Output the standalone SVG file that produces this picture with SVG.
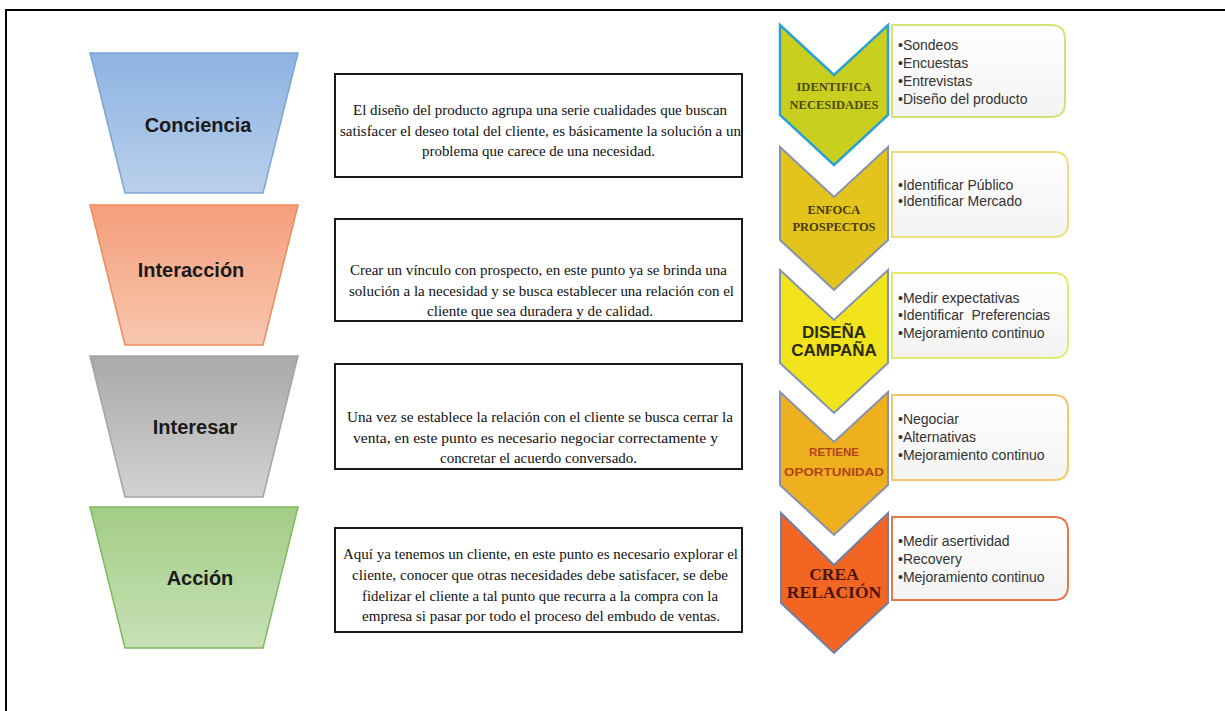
<svg xmlns="http://www.w3.org/2000/svg" width="1225" height="711" viewBox="0 0 1225 711">
<defs>
<linearGradient id="gBlue" x1="0" y1="0" x2="0" y2="1"><stop offset="0" stop-color="#8DB3E2"/><stop offset="1" stop-color="#B9D0EB"/></linearGradient>
<linearGradient id="gOrange" x1="0" y1="0" x2="0" y2="1"><stop offset="0" stop-color="#F49E7B"/><stop offset="1" stop-color="#F8C7AF"/></linearGradient>
<linearGradient id="gGray" x1="0" y1="0" x2="0" y2="1"><stop offset="0" stop-color="#A9A9A9"/><stop offset="1" stop-color="#D2D2D2"/></linearGradient>
<linearGradient id="gGreen" x1="0" y1="0" x2="0" y2="1"><stop offset="0" stop-color="#A3CD86"/><stop offset="1" stop-color="#C7E1B6"/></linearGradient>
<linearGradient id="gBox" x1="0" y1="0" x2="0" y2="1"><stop offset="0" stop-color="#FFFFFF"/><stop offset="1" stop-color="#F3F3F3"/></linearGradient>
</defs>
<style>
.frame{fill:none;stroke:#000;stroke-width:2}
.trap-label{font-family:"Liberation Sans",Arial,sans-serif;font-weight:bold;font-size:20px;fill:#1A1A1A;text-anchor:middle}
.desc{fill:#FFFFFF;stroke:#1A1A1A;stroke-width:2}
.desc-text{font-family:"Liberation Serif","Times New Roman",serif;font-size:14.5px;fill:#111;text-anchor:start}
.chev-serif{font-family:"Liberation Serif","Times New Roman",serif;font-weight:bold;text-anchor:middle}
.chev-sans{font-family:"Liberation Sans",Arial,sans-serif;font-weight:bold;text-anchor:middle}
.bullet{font-family:"Liberation Sans",Arial,sans-serif;font-size:14px;fill:#333333}
.bbox{fill:url(#gBox);stroke-width:2}
</style>
<rect class="frame" x="6" y="10" width="1230" height="720"/>

<g id="trap-conciencia">
<path d="M90,53 L298,53 L263,193 L125,193 Z" fill="url(#gBlue)" stroke="#7CA5D8" stroke-width="1.5"/>
<text class="trap-label" x="198" y="132">Conciencia</text>
</g>
<g id="trap-interaccion">
<path d="M90,205 L298,205 L263,345 L125,345 Z" fill="url(#gOrange)" stroke="#EE8A5E" stroke-width="1.5"/>
<text class="trap-label" x="191" y="277">Interacción</text>
</g>
<g id="trap-interesar">
<path d="M90,356 L298,356 L263,497 L125,497 Z" fill="url(#gGray)" stroke="#A3A3A3" stroke-width="1.5"/>
<text class="trap-label" x="195" y="434">Interesar</text>
</g>
<g id="trap-accion">
<path d="M90,507 L298,507 L263,648 L125,648 Z" fill="url(#gGreen)" stroke="#80BA5E" stroke-width="1.5"/>
<text class="trap-label" x="200" y="585">Acción</text>
</g>

<g id="desc-1">
<rect class="desc" x="335" y="74" width="407" height="103"/>
<text class="desc-text" x="353" y="115" textLength="374" lengthAdjust="spacingAndGlyphs">El diseño del producto agrupa una serie cualidades que buscan</text>
<text class="desc-text" x="340" y="136" textLength="401" lengthAdjust="spacingAndGlyphs">satisfacer el deseo total del cliente, es básicamente la solución a un</text>
<text class="desc-text" x="422" y="156" textLength="233" lengthAdjust="spacingAndGlyphs">problema que carece de una necesidad.</text>
</g>
<g id="desc-2">
<rect class="desc" x="335" y="219" width="407" height="102"/>
<text class="desc-text" x="350" y="275" textLength="377" lengthAdjust="spacingAndGlyphs">Crear un vínculo con prospecto, en este punto ya se brinda una</text>
<text class="desc-text" x="349" y="296" textLength="385" lengthAdjust="spacingAndGlyphs">solución a la necesidad y se busca establecer una relación con el</text>
<text class="desc-text" x="427" y="316" textLength="226" lengthAdjust="spacingAndGlyphs">cliente que sea duradera y de calidad.</text>
</g>
<g id="desc-3">
<rect class="desc" x="335" y="364" width="407" height="105"/>
<text class="desc-text" x="347" y="422" textLength="386" lengthAdjust="spacingAndGlyphs">Una vez se establece la relación con el cliente se busca cerrar la</text>
<text class="desc-text" x="353" y="443" textLength="365" lengthAdjust="spacingAndGlyphs">venta, en este punto es necesario negociar correctamente y</text>
<text class="desc-text" x="440" y="463" textLength="197" lengthAdjust="spacingAndGlyphs">concretar el acuerdo conversado.</text>
</g>
<g id="desc-4">
<rect class="desc" x="335" y="528" width="407" height="104"/>
<text class="desc-text" x="343" y="559" textLength="395" lengthAdjust="spacingAndGlyphs">Aquí ya tenemos un cliente, en este punto es necesario explorar el</text>
<text class="desc-text" x="352" y="580" textLength="376" lengthAdjust="spacingAndGlyphs">cliente, conocer que otras necesidades debe satisfacer, se debe</text>
<text class="desc-text" x="362" y="601" textLength="356" lengthAdjust="spacingAndGlyphs">fidelizar el cliente a tal punto que recurra a la compra con la</text>
<text class="desc-text" x="362" y="621" textLength="358" lengthAdjust="spacingAndGlyphs">empresa si pasar por todo el proceso del embudo de ventas.</text>
</g>

<g id="step-identifica">
<path d="M780,25 L834,75 L888,25 L888,115 L834,165 L780,115 Z" fill="#C9CF1E" stroke="#2BA3CF" stroke-width="2.5"/>
<text class="chev-serif" x="834" y="91" font-size="12.5" fill="#4D4A12">IDENTIFICA</text>
<text class="chev-serif" x="834" y="109" font-size="12.5" fill="#4D4A12">NECESIDADES</text>
</g>
<g id="step-enfoca">
<path d="M780,147 L834,197 L888,147 L888,240 L834,290 L780,240 Z" fill="#E3C41C" stroke="#8592B0" stroke-width="2"/>
<text class="chev-serif" x="834" y="214" font-size="12.5" fill="#4A3A10">ENFOCA</text>
<text class="chev-serif" x="834" y="231" font-size="12.5" fill="#4A3A10">PROSPECTOS</text>
</g>
<g id="step-disena">
<path d="M780,270 L834,320 L888,270 L888,363 L834,413 L780,363 Z" fill="#F2E41C" stroke="#8592B0" stroke-width="2"/>
<text class="chev-sans" x="834" y="338" font-size="17" fill="#2A2A10">DISEÑA</text>
<text class="chev-sans" x="834" y="356" font-size="17" fill="#2A2A10">CAMPAÑA</text>
</g>
<g id="step-retiene">
<path d="M780,392 L834,442 L888,392 L888,485 L834,535 L780,485 Z" fill="#EFB01F" stroke="#8592B0" stroke-width="2"/>
<text class="chev-sans" x="834" y="456" font-size="11.5" fill="#B3421A">RETIENE</text>
<text class="chev-sans" x="834" y="476" font-size="11.5" fill="#B3421A" textLength="100" lengthAdjust="spacingAndGlyphs">OPORTUNIDAD</text>
</g>
<g id="step-crea">
<path d="M781,513 L834,565 L888,513 L888,603 L834,653 L781,603 Z" fill="#F26522" stroke="#6F7FA6" stroke-width="2"/>
<text class="chev-serif" x="834" y="580" font-size="17.5" fill="#4A160C">CREA</text>
<text class="chev-serif" x="834" y="598" font-size="17.5" fill="#4A160C">RELACIÓN</text>
</g>

<g id="list-1">
<path class="bbox" d="M892,25 L1051,25 Q1065,25 1065,39 L1065,103 Q1065,117 1051,117 L892,117 Z" stroke="#D8E07A"/>
<text class="bullet" x="898" y="50">•Sondeos</text>
<text class="bullet" x="898" y="68">•Encuestas</text>
<text class="bullet" x="898" y="86">•Entrevistas</text>
<text class="bullet" x="898" y="104">•Diseño del producto</text>
</g>
<g id="list-2">
<path class="bbox" d="M892,152 L1054,152 Q1068,152 1068,166 L1068,223 Q1068,237 1054,237 L892,237 Z" stroke="#ECE07E"/>
<text class="bullet" x="898" y="190">•Identificar Público</text>
<text class="bullet" x="898" y="206">•Identificar Mercado</text>
</g>
<g id="list-3">
<path class="bbox" d="M892,273 L1054,273 Q1068,273 1068,287 L1068,344 Q1068,358 1054,358 L892,358 Z" stroke="#E2EA72"/>
<text class="bullet" x="898" y="303">•Medir expectativas</text>
<text class="bullet" x="898" y="320" xml:space="preserve">•Identificar  Preferencias</text>
<text class="bullet" x="898" y="338">•Mejoramiento continuo</text>
</g>
<g id="list-4">
<path class="bbox" d="M892,395 L1054,395 Q1068,395 1068,409 L1068,466 Q1068,480 1054,480 L892,480 Z" stroke="#F2C66A"/>
<text class="bullet" x="898" y="424">•Negociar</text>
<text class="bullet" x="898" y="442">•Alternativas</text>
<text class="bullet" x="898" y="460">•Mejoramiento continuo</text>
</g>
<g id="list-5">
<path class="bbox" d="M892,517 L1054,517 Q1068,517 1068,531 L1068,586 Q1068,600 1054,600 L892,600 Z" stroke="#E2794A"/>
<text class="bullet" x="898" y="546">•Medir asertividad</text>
<text class="bullet" x="898" y="564">•Recovery</text>
<text class="bullet" x="898" y="582">•Mejoramiento continuo</text>
</g>
<g id="connectors"></g>
</svg>
